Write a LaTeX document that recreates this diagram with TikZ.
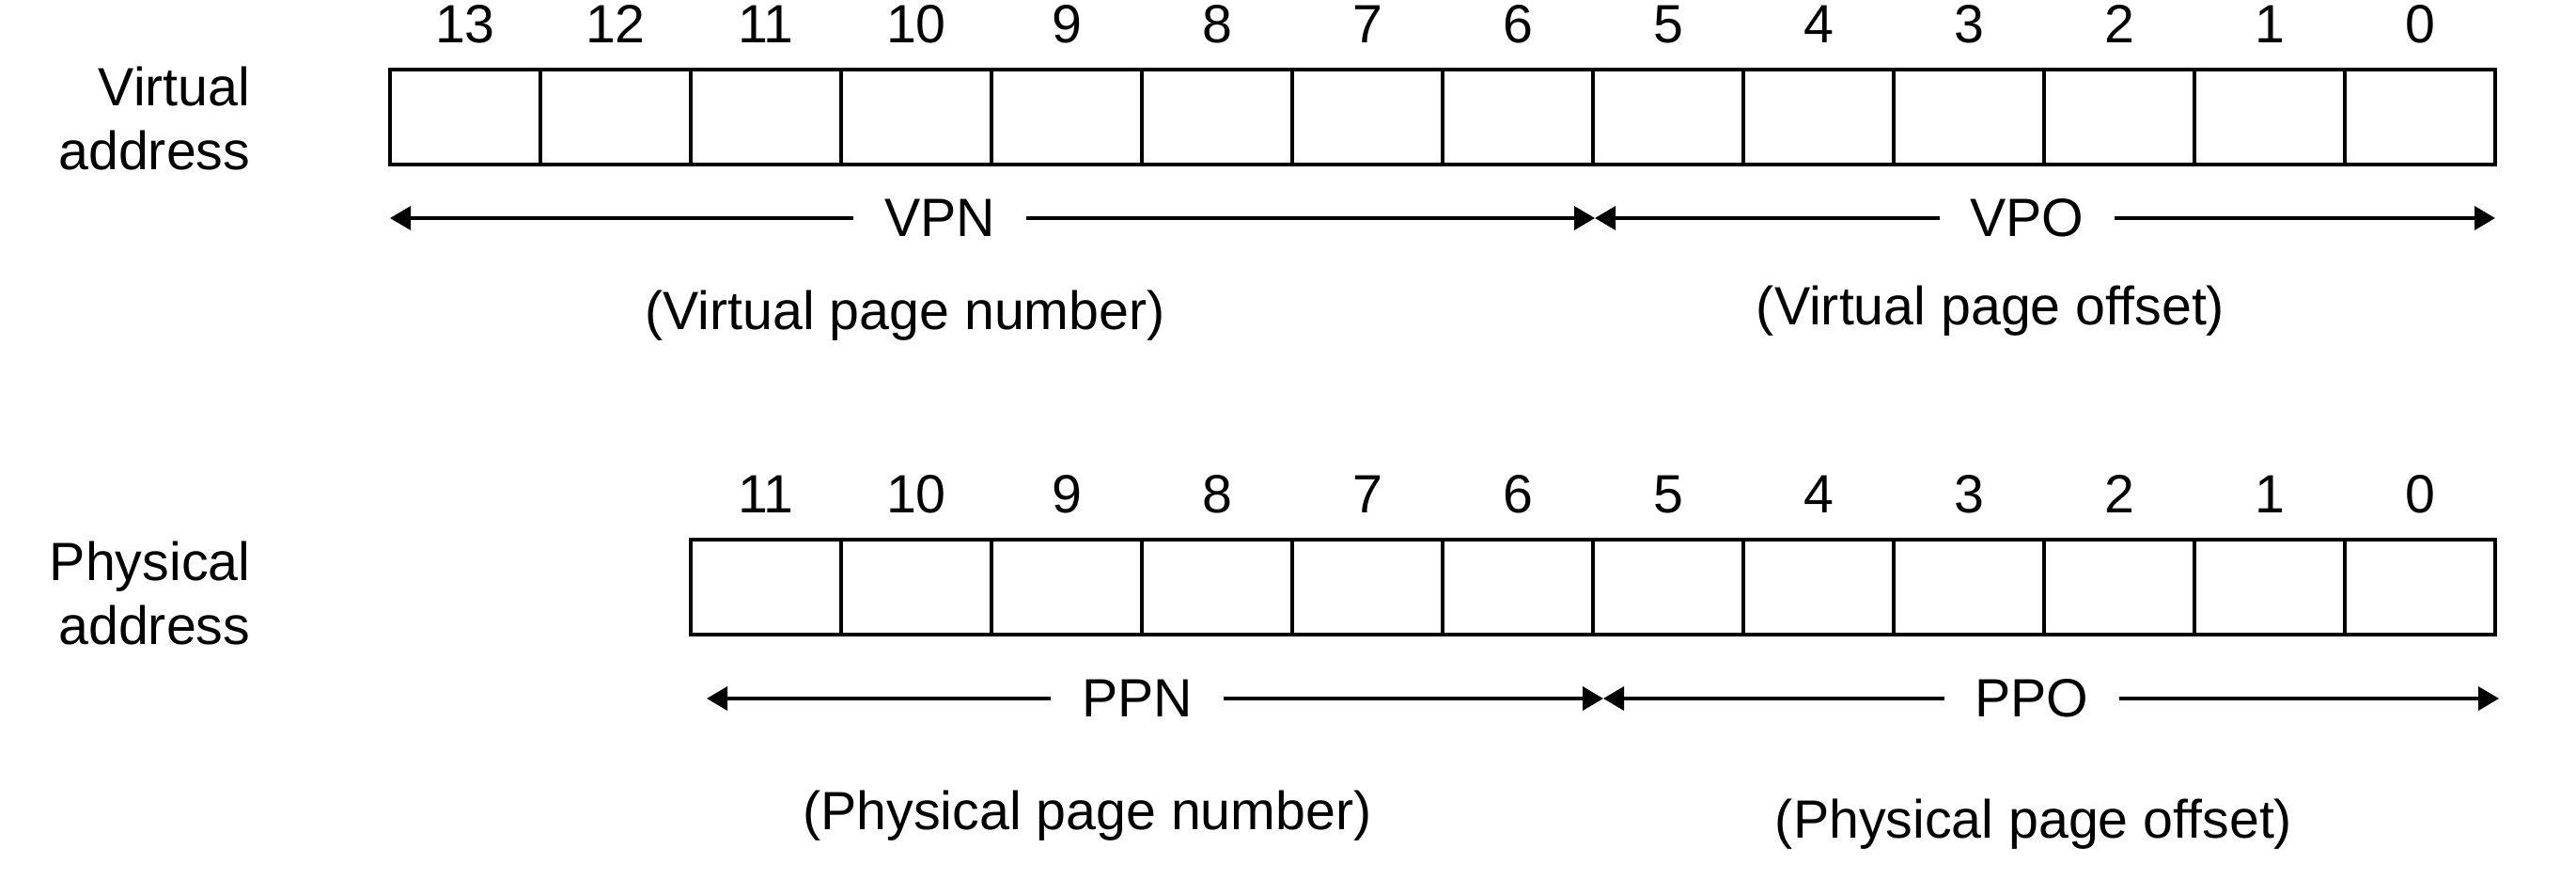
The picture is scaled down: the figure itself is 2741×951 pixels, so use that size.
\documentclass[tikz,border=0pt]{standalone}
\usepackage{fontspec}
\setmainfont{Liberation Sans}
\usetikzlibrary{arrows.meta}
\begin{document}
\begin{tikzpicture}[x=0.01cm,y=-0.01cm,
  cell/.style={draw, line width=1pt, minimum width=1.6cm, minimum height=1.01cm, inner sep=0pt, outer sep=0pt, anchor=north west},
  txt/.style={font=\fontsize{16.3pt}{19.1pt}\selectfont, inner sep=0pt},
  num/.style={txt, anchor=base},
  lbl/.style={txt, align=right, anchor=east},
  fld/.style={txt, inner xsep=0.32cm, inner ysep=0pt},
  arr/.style={line width=1pt, -{Triangle[length=0.22cm,width=0.25cm]}},
]
\useasboundingbox (0,0) rectangle (2741,951);

% Virtual address
\node[lbl] (vlabel) at (267,126) {Virtual\\address};
\foreach \i in {0,...,13}{
  \pgfmathtruncatemacro{\b}{13-\i}
  \node[cell] (v\b) at ({415+160*\i},74) {};
  \node[num] (vn\b) at ({495+160*\i},45) {\b};
}
\coordinate (vleft) at (415,232);
\coordinate (vmid) at (1697,232);
\coordinate (vright) at (2655,232);
\node[fld] (VPN) at (1000,232) {VPN};
\node[fld] (VPO) at (2157,232) {VPO};
\draw[arr] (VPN.west) -- (vleft);
\draw[arr] (VPN.east) -- (vmid);
\draw[arr] (VPO.west) -- (vmid);
\draw[arr] (VPO.east) -- (vright);
\node[num] (vpnt) at (963,350) {(Virtual page number)};
\node[num] (vpot) at (2118,345) {(Virtual page offset)};

% Physical address
\node[lbl] (plabel) at (267,631) {Physical\\address};
\foreach \i in {0,...,11}{
  \pgfmathtruncatemacro{\b}{11-\i}
  \node[cell] (p\b) at ({735+160*\i},574) {};
  \node[num] (pn\b) at ({815+160*\i},545) {\b};
}
\coordinate (pleft) at (752,743);
\coordinate (pmid) at (1706,743);
\coordinate (pright) at (2659,743);
\node[fld] (PPN) at (1210,743) {PPN};
\node[fld] (PPO) at (2162,743) {PPO};
\draw[arr] (PPN.west) -- (pleft);
\draw[arr] (PPN.east) -- (pmid);
\draw[arr] (PPO.west) -- (pmid);
\draw[arr] (PPO.east) -- (pright);
\node[num] (ppnt) at (1157,882) {(Physical page number)};
\node[num] (ppot) at (2164,891) {(Physical page offset)};
\end{tikzpicture}
\end{document}
